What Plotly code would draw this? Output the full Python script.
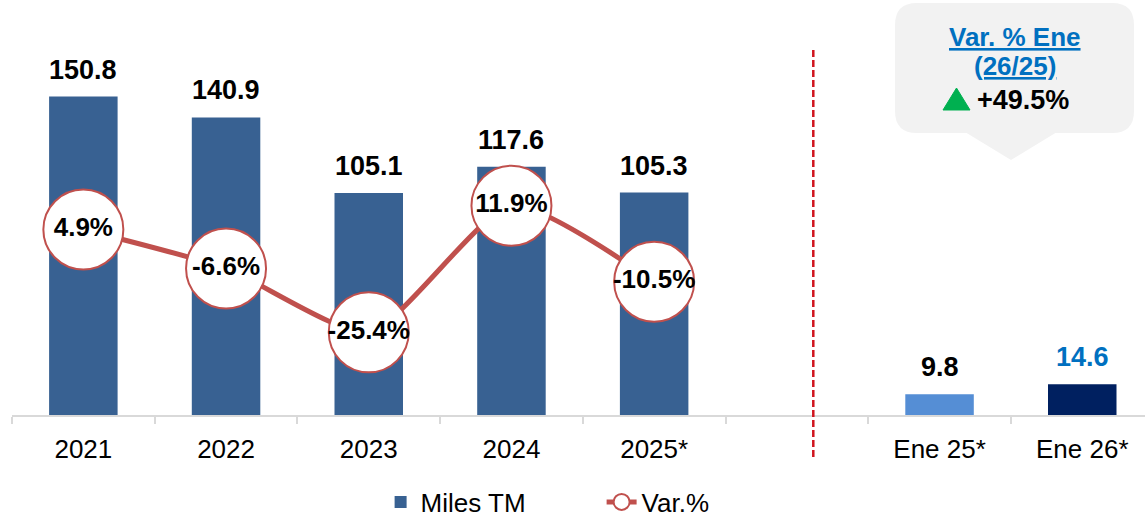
import plotly.graph_objects as go

# ---- data ----
categories = ["2021", "2022", "2023", "2024", "2025*", " ", "Ene 25*", "Ene 26*"]
miles_tm = [150.8, 140.9, 105.1, 117.6, 105.3, None, 9.8, 14.6]
var_categories = ["2021", "2022", "2023", "2024", "2025*"]
var_pct = [4.9, -6.6, -25.4, 11.9, -10.5]
callout_title = ["Var. % Ene", "(26/25)"]
callout_value = "+49.5%"

# ---- styling ----
W, H = 1145, 517
ML = 12
PW = W - ML
BASE = 415          # pixel row of the category axis
PH = BASE
FONT = "Arial, Liberation Sans, sans-serif"
bar_colors = ["#386192"] * 6 + ["#558ED5", "#002060"]
label_colors = ["#000000"] * 7 + ["#0070C0"]
RED = "#C0504D"


def px(x):
    return (x - ML) / PW


def py(y):
    return (H - y) / H


fig = go.Figure()
fig.add_trace(go.Bar(
    x=categories, y=miles_tm, name="Miles TM",
    marker=dict(color=bar_colors, line=dict(width=0)),
    width=0.48, yaxis="y",
))
fig.add_trace(go.Scatter(
    x=var_categories, y=var_pct, name="Var.%", yaxis="y2",
    mode="lines+markers+text",
    line=dict(color=RED, width=5, shape="spline", smoothing=0.6),
    marker=dict(size=80, color="white", line=dict(color=RED, width=2)),
    text=[f"{v:.1f}%" for v in var_pct], textposition="middle center",
    textfont=dict(family=FONT, size=26, color="black", weight="bold"),
    cliponaxis=False,
))

# bar value labels
for i, (v, col) in enumerate(zip(miles_tm, label_colors)):
    if v is None:
        continue
    fig.add_annotation(x=i, y=v, xref="x", yref="y", text=f"<b>{v:.1f}</b>",
                       showarrow=False, xanchor="center", yanchor="middle", yshift=27,
                       font=dict(family=FONT, size=27, color=col))

# separator dashed line
fig.add_shape(type="line", xref="paper", yref="paper",
              x0=px(813.3), x1=px(813.3), y0=py(457), y1=py(50),
              line=dict(color="#D0141E", width=2.5, dash="7px,3px"), layer="above")

# callout box
x0, x1, y0, y1, r = 895, 1134, 3, 133, 22
path = (f"M {px(x0 + r)},{py(y0)} L {px(x1 - r)},{py(y0)} "
        f"Q {px(x1)},{py(y0)} {px(x1)},{py(y0 + r)} "
        f"L {px(x1)},{py(y1 - r)} Q {px(x1)},{py(y1)} {px(x1 - r)},{py(y1)} "
        f"L {px(x0 + r)},{py(y1)} Q {px(x0)},{py(y1)} {px(x0)},{py(y1 - r)} "
        f"L {px(x0)},{py(y0 + r)} Q {px(x0)},{py(y0)} {px(x0 + r)},{py(y0)} Z")
fig.add_shape(type="path", xref="paper", yref="paper", path=path,
              fillcolor="#F2F2F2", line=dict(width=0), layer="below")
tri = f"M {px(965)},{py(132)} L {px(1057)},{py(132)} L {px(1011)},{py(160)} Z"
fig.add_shape(type="path", xref="paper", yref="paper", path=tri,
              fillcolor="#F2F2F2", line=dict(width=0), layer="below")
# green up-triangle
gtri = f"M {px(943)},{py(110)} L {px(970)},{py(110)} L {px(956.5)},{py(88)} Z"
fig.add_shape(type="path", xref="paper", yref="paper", path=gtri,
              fillcolor="#00B050", line=dict(color="#00B050", width=1), layer="above")

fig.add_annotation(xref="paper", yref="paper", x=px(1015), y=py(37),
                   text=f"<b><u>{callout_title[0]}</u></b>", showarrow=False,
                   xanchor="center", yanchor="middle",
                   font=dict(family=FONT, size=26, color="#0070C0"))
fig.add_annotation(xref="paper", yref="paper", x=px(1015), y=py(66),
                   text=f"<b><u>{callout_title[1]}</u></b>", showarrow=False,
                   xanchor="center", yanchor="middle",
                   font=dict(family=FONT, size=26, color="#0070C0"))
fig.add_annotation(xref="paper", yref="paper", x=px(975), y=py(100),
                   text=f"<b>{callout_value}</b>", showarrow=False,
                   xanchor="left", yanchor="middle",
                   font=dict(family=FONT, size=27, color="#000000"))

fig.update_layout(
    width=W, height=H,
    margin=dict(l=ML, r=0, t=0, b=0, autoexpand=False),
    paper_bgcolor="white", plot_bgcolor="white",
    font=dict(family=FONT, color="black"),
    showlegend=True,
    legend=dict(orientation="h", x=0.5204, xanchor="center", y=py(502), yanchor="middle",
                font=dict(family=FONT, size=26, color="black"),
                entrywidth=176, traceorder="normal", bgcolor="rgba(0,0,0,0)"),
    xaxis=dict(type="category", categoryorder="array", categoryarray=categories,
               range=[-0.5, -0.5 + PW / 142.7], automargin=False,
               showline=True, linecolor="#D9D9D9", linewidth=2,
               ticks="outside", ticklen=7, tickwidth=2, tickcolor="#D9D9D9",
               tickson="boundaries", showgrid=False, zeroline=False,
               tickfont=dict(family=FONT, size=26, color="black"),
               ticklabelstandoff=10),
    yaxis=dict(domain=[(H - BASE) / H, 1], range=[0, PH / 2.112], visible=False,
               showgrid=False, zeroline=False, automargin=False),
    yaxis2=dict(range=[11.9 - (PH - 205.7) / 3.394, 11.9 + 205.7 / 3.394],
                overlaying="y", visible=False, showgrid=False, zeroline=False),
    bargap=0.52,
)

fig.write_html("out.html", config={"displayModeBar": False},
               post_script="document.body.style.margin='0';document.body.style.overflow='hidden';")
